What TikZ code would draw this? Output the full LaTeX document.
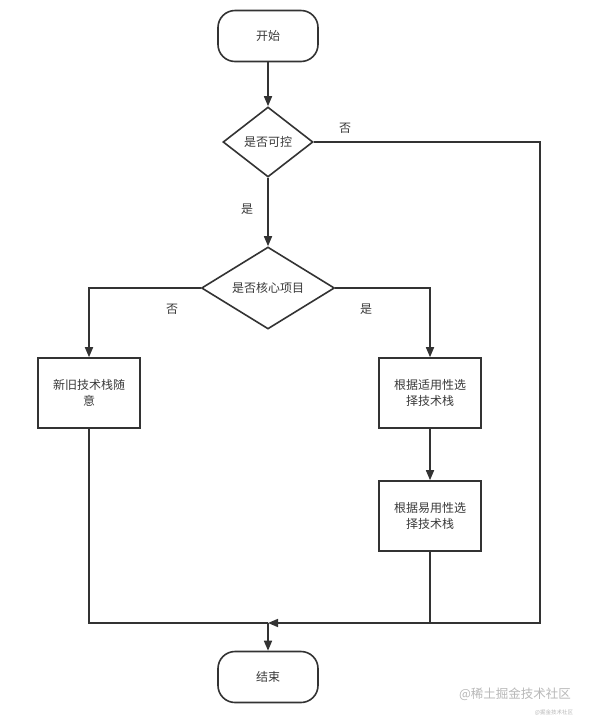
\documentclass[tikz,border=0pt]{standalone}
\usepackage{fontspec}
\setmainfont{Noto Sans CJK SC}
\usetikzlibrary{shapes.geometric,arrows.meta}
\definecolor{ink}{HTML}{333333}
\definecolor{txt}{HTML}{3A3A3A}
\definecolor{wm}{HTML}{B8B8B8}
\tikzset{
  every node/.style={font=\fontsize{12}{16}\selectfont, text=txt},
  term/.style={draw=ink, line width=1.6pt, rounded corners=17pt, minimum width=100pt, minimum height=51pt, inner sep=0pt},
  decide/.style={draw=ink, line width=1.6pt, diamond, inner sep=0pt},
  proc/.style={draw=ink, line width=1.6pt, minimum width=102pt, minimum height=70pt, inner sep=0pt, align=center},
  conn/.style={draw=ink, line width=1.6pt},
  arr/.style={conn, -{Triangle[length=10pt,width=8pt]}},
  lbl/.style={inner sep=0pt}
}
\begin{document}
\begin{tikzpicture}[x=1pt,y=-1pt]
\useasboundingbox[fill=white] (0,0) rectangle (589,721);
\node[term] (start) at (268,36) {开始};
\node[decide, minimum width=90pt, minimum height=70pt, aspect=1.3] (d1) at (268,142) {是否可控};
\node[decide, minimum width=133pt, minimum height=82pt, aspect=1.62] (d2) at (268,288) {是否核心项目};
\node[proc] (b1) at (89,393) {新旧技术栈随\\意};
\node[proc] (b2) at (430,393) {根据适用性选\\择技术栈};
\node[proc] (b3) at (430,516) {根据易用性选\\择技术栈};
\node[term] (end) at (268,677) {结束};
\coordinate (m) at (268,623);
\coordinate (r1) at (540,623);

\draw[arr] (start.south) -- (d1.north);
\draw[arr] (d1.south) -- (d2.north);
\draw[arr] (d1.east) -| (r1) -- (m);
\draw[arr] (d2.west) -| (b1.north);
\draw[arr] (d2.east) -| (b2.north);
\draw[arr] (b2.south) -- (b3.north);
\draw[conn] (b1.south) |- (m);
\draw[conn] (b3.south) -- (b3.south |- m);
\draw[arr] (m) -- (end.north);

\node[lbl] (l1) at (345,128) {否};
\node[lbl] (l2) at (247,209) {是};
\node[lbl] (l3) at (172,309) {否};
\node[lbl] (l4) at (366,309) {是};

\node[lbl, text=wm, font=\fontsize{12.5}{14}\selectfont] (w1) at (515,694) {@稀土掘金技术社区};
\node[lbl, text=wm, font=\fontsize{5.5}{6}\selectfont] (w2) at (554,713) {@掘金技术社区};
\end{tikzpicture}
\end{document}
